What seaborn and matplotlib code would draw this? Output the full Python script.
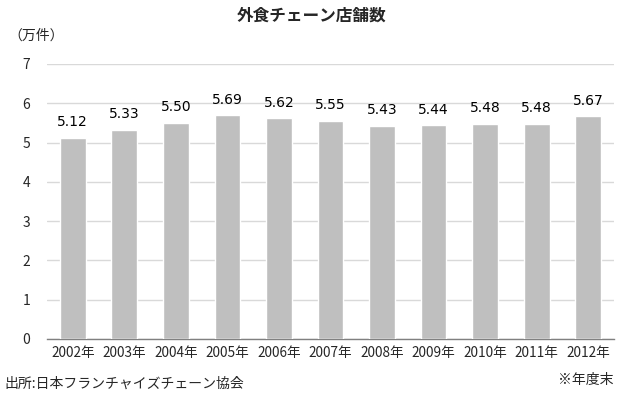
import matplotlib
matplotlib.use("Agg")
import matplotlib.pyplot as plt
import seaborn as sns
import pandas as pd
import numpy as np

years = ["2002年", "2003年", "2004年", "2005年", "2006年", "2007年",
         "2008年", "2009年", "2010年", "2011年", "2012年"]
values = [5.12, 5.33, 5.50, 5.69, 5.62, 5.55, 5.43, 5.44, 5.48, 5.48, 5.67]
yticks = [0, 1, 2, 3, 4, 5, 6, 7]

sns.set_theme(style="white")
plt.rcParams['font.family'] = ['Noto Sans CJK JP', 'DejaVu Sans']

df = pd.DataFrame({"year": years, "value": values})

fig = plt.figure(figsize=(6.23, 3.98), dpi=100)
ax = fig.add_axes([47/623, 1-339/398, (614-47)/623, (339-64)/398])

sns.barplot(data=df, x="year", y="value", color="#BFBFBF", width=0.5,
            saturation=1, ax=ax, zorder=3)

ax.set_ylim(0, 7)
ax.set_xlim(-0.5, len(years) - 0.5)
ax.set_yticks(yticks)
ax.set_yticklabels([str(t) for t in yticks], fontsize=10)
ax.yaxis.grid(True, color="#D9D9D9", linewidth=1, zorder=0)
ax.set_axisbelow(True)
ax.tick_params(axis="y", length=0, pad=12)
ax.tick_params(axis="x", which="major", length=0, pad=5, labelsize=9.8)
ax.set_xticks(np.arange(-0.5, len(years), 1.0), minor=True)
ax.tick_params(axis="x", which="minor", length=4, color="#808080", width=1, direction="out")
ax.set_xlabel("")
ax.set_ylabel("")

for s in ["top", "right", "left"]:
    ax.spines[s].set_visible(False)
ax.spines["bottom"].set_color("#808080")
ax.spines["bottom"].set_linewidth(1)

for i, v in enumerate(values):
    ax.text(i, v + 0.22, f"{v:.2f}", ha="center", va="bottom", fontsize=10,
            color="#000000", family=['DejaVu Sans'])

fig.text(0.5, 1-16/398, "外食チェーン店舗数", ha="center", va="center",
         fontsize=12, fontweight="bold")
fig.text(8/623, 1-36/398, "（万件）", ha="left", va="center", fontsize=10)
fig.text(4/623, 1-384/398, "出所:日本フランチャイズチェーン協会", ha="left", va="center", fontsize=10)
fig.text(614/623, 1-380/398, "※年度末", ha="right", va="center", fontsize=10)

fig.savefig("out.png", dpi=100)
